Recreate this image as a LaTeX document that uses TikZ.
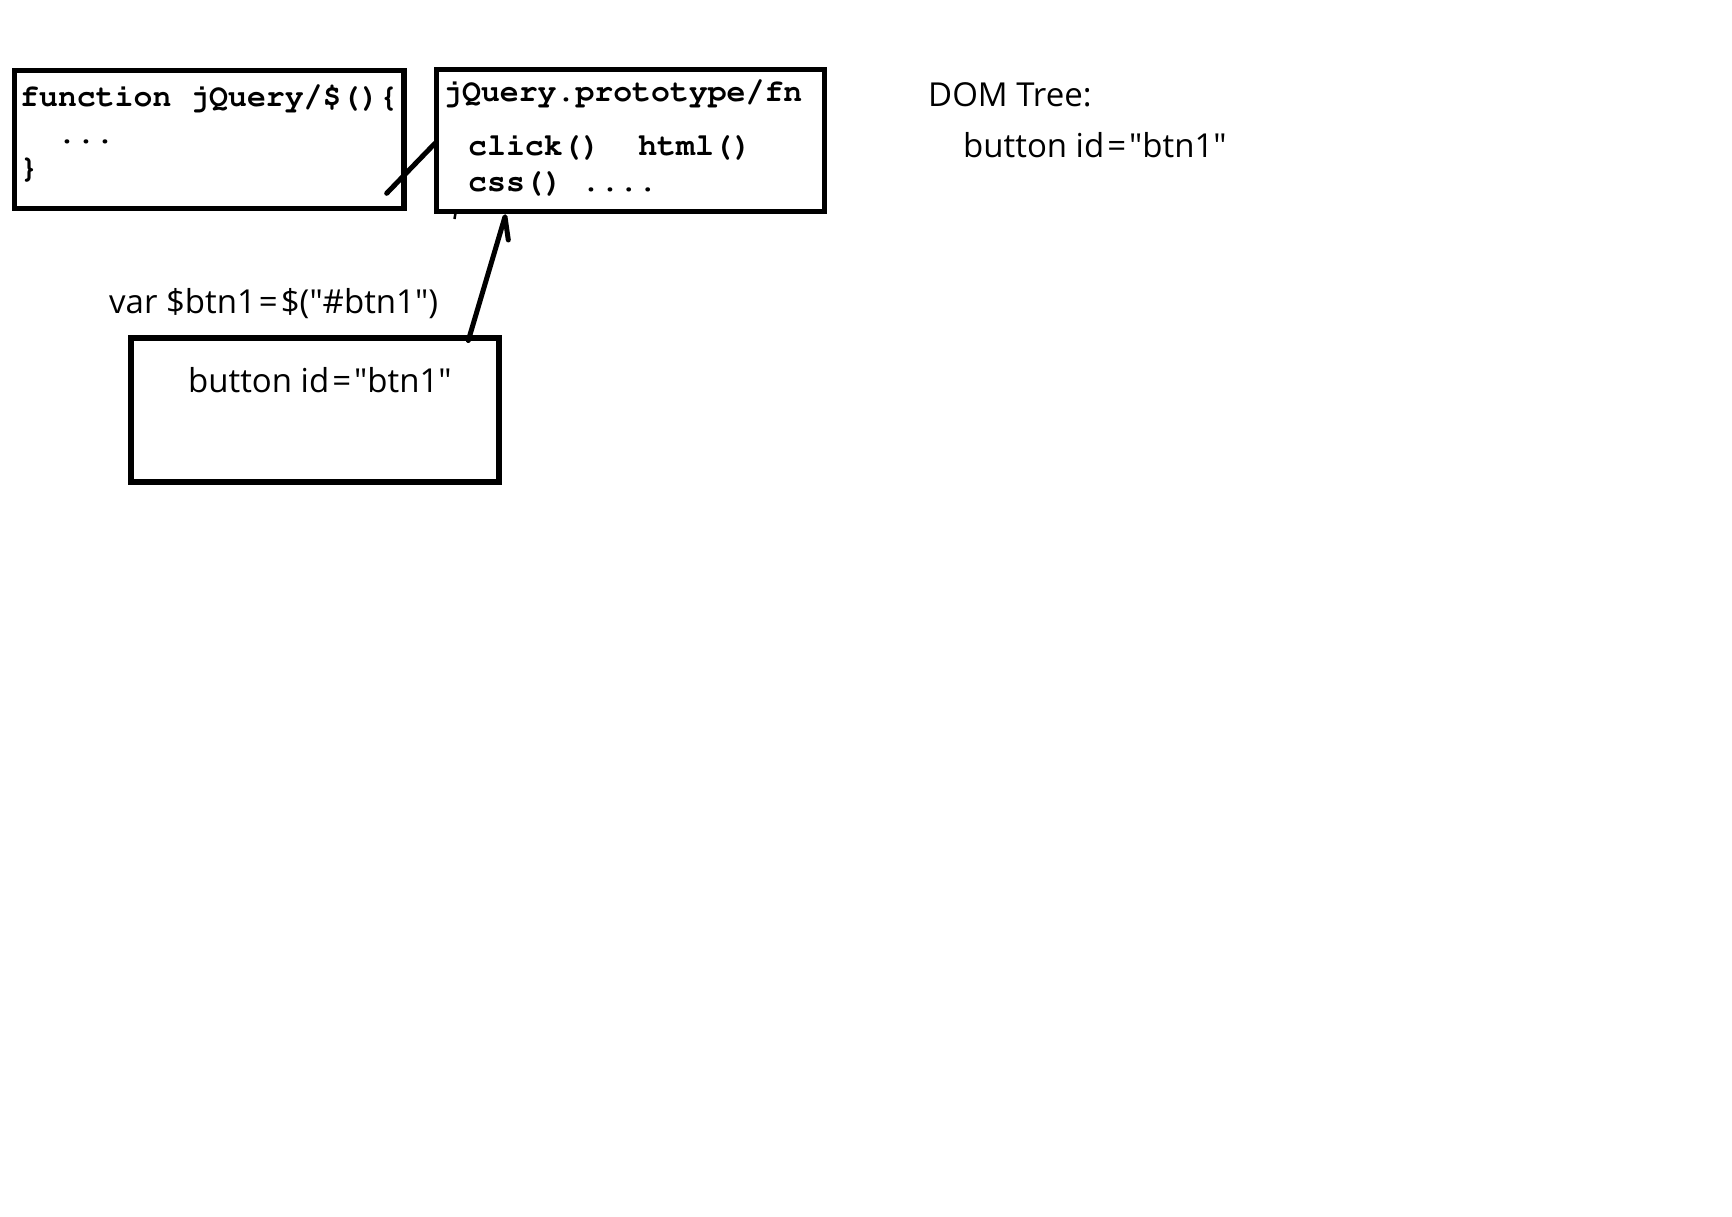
\documentclass[tikz,border=0pt]{standalone}
\usepackage[T1]{fontenc}
\usepackage{fontspec}
\usetikzlibrary{calc}
\setsansfont{Open Sans}
\newcommand\codefont{\fontencoding{T1}\fontfamily{pcr}\fontseries{b}\fontshape{n}\fontsize{31.5}{36}\selectfont}
\newcommand\labelfont{\sffamily\fontsize{33}{38}\selectfont}
% straight double quote and a spaced equals sign
\newcommand\dq{\textquotedbl}
\newcommand\eqs{\kern3pt=\kern3pt}
\tikzset{
  box/.style={draw=black, line width=5.5pt, rectangle, inner sep=0pt, outer sep=0pt},
  code/.style={anchor=base west, inner sep=0pt, font=\codefont},
  label/.style={anchor=base west, inner sep=0pt, font=\labelfont},
  pen/.style={draw=black, line width=5pt, line cap=round, line join=round}
}
\begin{document}
\begin{tikzpicture}[x=1pt, y=-1pt]
  \useasboundingbox[fill=white] (0,0) rectangle (1732,1216);

  % the jQuery function
  \node[box, minimum width=389.7pt, minimum height=138pt] (fnbox) at (209.15,139.5) {};
  \node[code] (fnhead) at (20,106.7) {function jQuery/\$()\{};
  \node[code] (fndots) at (57.5,143) {...};
  \node[code] (fnend) at (19.5,177) {\}};

  % the shared prototype
  \node[box, minimum width=387.8pt, minimum height=142.2pt] (proto) at (630.6,140.6) {};
  \node[code] (protohead) at (443,101.5) {jQuery.prototype/fn};
  \node[code] (protoa) at (468,155) {click()~~html()};
  \node[code] (protob) at (468,191.7) {css()~....};

  % the wrapped element
  \node[label] (call) at (109,313.3) {var \$btn1\eqs\$(\dq\#btn1\dq)};
  \node[box, minimum width=368pt, minimum height=144pt] (elem) at (315,410) {};
  \node[label] (elemtext) at (188,392.7) {button id\eqs\dq btn1\dq};

  % the document tree
  \node[label] (domhead) at (928,106.7) {DOM Tree:};
  \node[label] (domitem) at (963,157.3) {button id\eqs\dq btn1\dq};

  % link between function and prototype
  \coordinate (linkin) at (386.7,193.3);
  \coordinate (protoleft) at ($(proto.west)+(-1.7,2.7)$);
  \draw[pen] (protoleft) -- (linkin);

  % object points to the prototype
  \coordinate (elemtop) at (468.3,340.5);
  \coordinate (tip) at (505,216.7);
  \coordinate (barb) at (508.3,240);
  \draw[pen] (elemtop) -- (tip) -- (barb);
  \draw[black, line width=2.5pt] (455.5,213) -- (454.5,219);
\end{tikzpicture}
\end{document}
